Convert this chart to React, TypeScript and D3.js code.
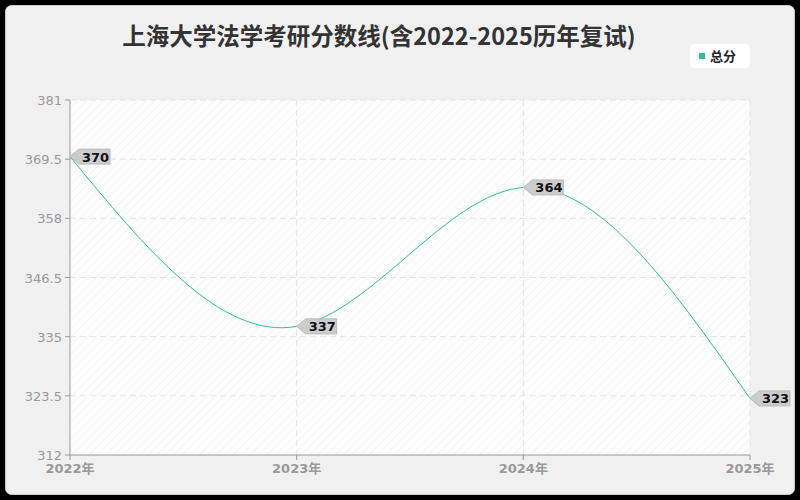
import React from "react";
import * as d3 from "d3";

const years = ["2022年", "2023年", "2024年", "2025年"];
const scores = [370, 337, 364, 323];
const yTicks = [312, 323.5, 335, 346.5, 358, 369.5, 381];
const seriesName = "总分";
const title = "上海大学法学考研分数线(含2022-2025历年复试)";

const W = 800;
const H = 500;
const margin = { top: 100, right: 50, bottom: 45, left: 70 };
const font = "'Noto Sans CJK SC', 'Noto Sans', sans-serif";
const axisFont = "'DejaVu Sans', 'Noto Sans CJK SC', sans-serif";
const lineColor = "#2ec29a";

const App: React.FC = () => {
  const x = d3
    .scalePoint<string>()
    .domain(years)
    .range([margin.left, W - margin.right]);
  const y = d3
    .scaleLinear()
    .domain([312, 381])
    .range([H - margin.bottom, margin.top]);

  const pts: [number, number][] = scores.map((v, i) => [x(years[i])!, y(v)]);
  const path = d3.line().curve(d3.curveNatural)(pts) ?? "";

  return (
    <svg
      width={W}
      height={H}
      style={{ position: "absolute", left: 0, top: 0, background: "#000" }}
      fontFamily={font}
    >
      <defs>
        <pattern id="hatch" width="6" height="6" patternUnits="userSpaceOnUse" patternTransform="rotate(45)">
          <rect width="6" height="6" fill="#fdfdfd" />
          <line x1="0" y1="0" x2="0" y2="6" stroke="#f2f2f2" strokeWidth="1.5" />
        </pattern>
      </defs>
      <rect x={5.5} y={5.5} width={789} height={489} rx={6} fill="#f0f0f0" stroke="#ccc" />

      {/* titulo */}
      <text x={379} y={45} textAnchor="middle" fontSize={23.5} fontWeight="bold" fill="#333">
        {title}
      </text>

      {/* leyenda */}
      <rect x={690} y={44} width={60} height={24} rx={4} fill="#fff" />
      <rect x={699} y={53} width={6} height={6} fill={lineColor} />
      <text x={710} y={61} fontSize={13} fontWeight="bold" fill="#222">
        {seriesName}
      </text>

      {/* area del grafico */}
      <rect
        x={margin.left}
        y={margin.top}
        width={W - margin.left - margin.right}
        height={H - margin.top - margin.bottom}
        fill="url(#hatch)"
      />

      {/* cuadricula */}
      {yTicks.slice(1).map((t) => (
        <line
          key={t}
          x1={margin.left}
          x2={W - margin.right}
          y1={y(t)}
          y2={y(t)}
          stroke="#e3e3e3"
          strokeDasharray="6,4"
        />
      ))}
      {years.slice(1).map((yr) => (
        <line
          key={yr}
          x1={x(yr)}
          x2={x(yr)}
          y1={margin.top}
          y2={H - margin.bottom}
          stroke="#e3e3e3"
          strokeDasharray="6,4"
        />
      ))}

      {/* ejes */}
      <line x1={margin.left} x2={margin.left} y1={margin.top} y2={H - margin.bottom} stroke="#999" />
      <line x1={margin.left} x2={W - margin.right} y1={H - margin.bottom} y2={H - margin.bottom} stroke="#999" />
      {yTicks.map((t) => (
        <g key={t}>
          <line x1={margin.left - 5} x2={margin.left} y1={y(t)} y2={y(t)} stroke="#999" />
          <text x={margin.left - 8} y={y(t) + 5} textAnchor="end" fontSize={13} fill="#999" fontFamily={axisFont}>
            {t}
          </text>
        </g>
      ))}
      {years.map((yr) => (
        <g key={yr}>
          <line x1={x(yr)} x2={x(yr)} y1={H - margin.bottom} y2={H - margin.bottom + 5} stroke="#999" />
          <text
            x={x(yr)}
            y={H - margin.bottom + 18}
            textAnchor="middle"
            fontSize={13}
            fontWeight="bold"
            fill="#999"
            fontFamily={axisFont}
          >
            {yr}
          </text>
        </g>
      ))}

      {/* linea */}
      <path d={path} fill="none" stroke={lineColor} strokeWidth={1} />

      {/* etiquetas */}
      {pts.map(([px, py], i) => (
        <g key={i} transform={`translate(${px},${py})`}>
          <path d="M0,0 L9,-7.5 L40,-7.5 L40,7.5 L9,7.5 Z" fill="#ccc" stroke="#bbb" />
          <text x={12} y={5} fontSize={13} fontWeight="bold" fill="#111" fontFamily={axisFont}>
            {scores[i]}
          </text>
        </g>
      ))}
    </svg>
  );
};

export default App;
